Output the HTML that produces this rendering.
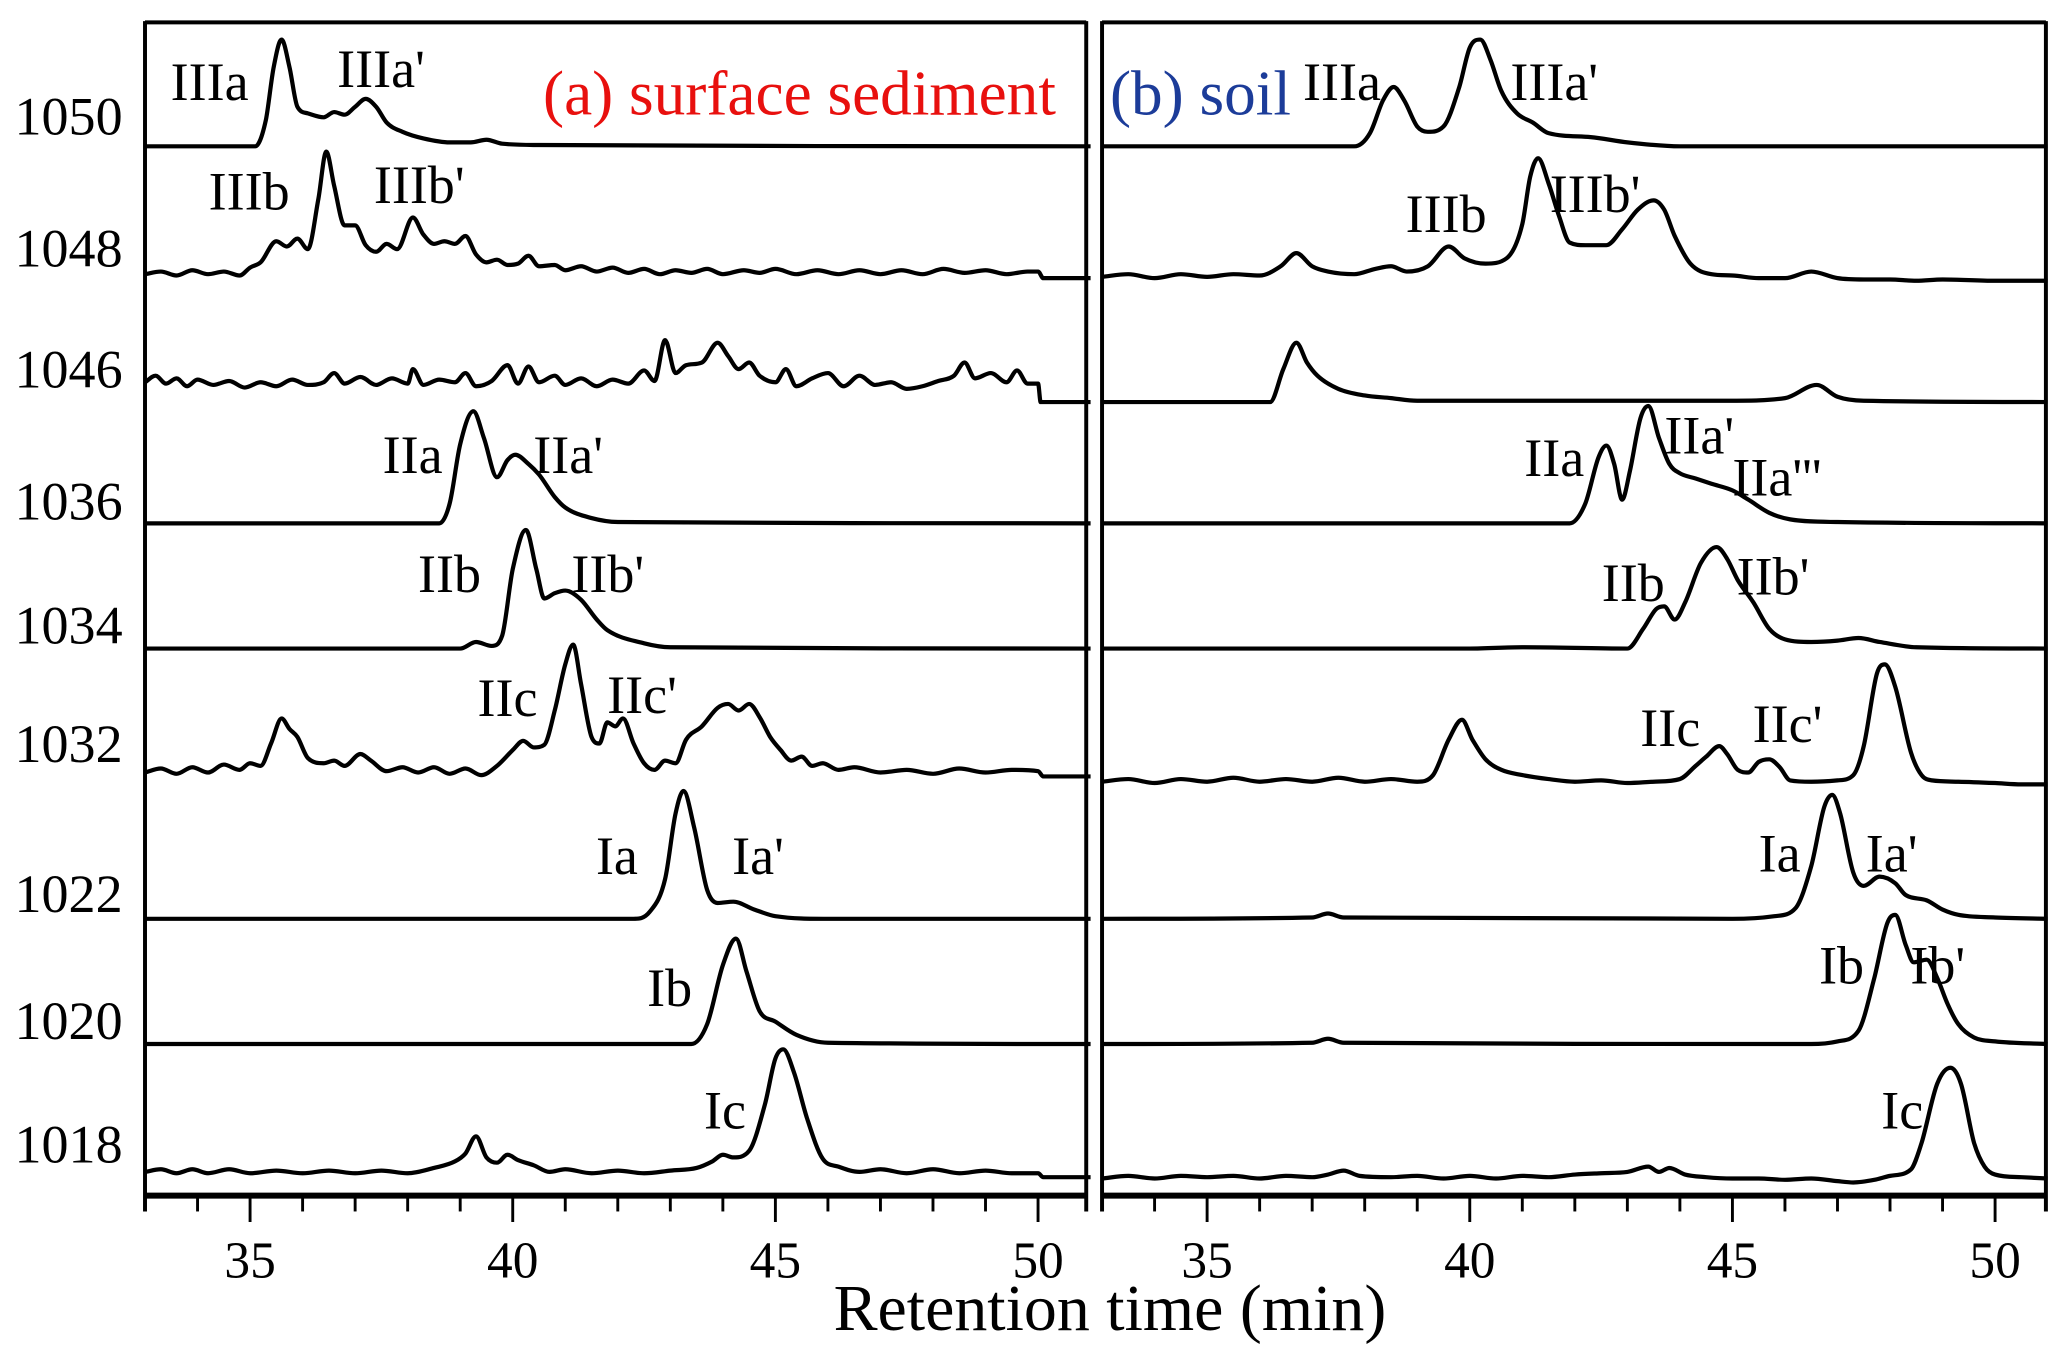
<!DOCTYPE html>
<html><head><meta charset="utf-8">
<style>
html,body{margin:0;padding:0;background:#fff;}
svg{display:block;}
text{font-family:"Liberation Serif",serif;}
</style></head>
<body>
<svg id="chart" width="2067" height="1362" viewBox="0 0 1568 1033.2" xmlns="http://www.w3.org/2000/svg">
<g id="frame"></g>
<g id="traces"></g>
<g id="labels"></g>
</svg>
<script>
// ---- data ----
const xTicks = [35, 40, 45, 50];
const xTickLabels = ["35", "40", "45", "50"];
const rowNames = ["1050","1048","1046","1036","1034","1032","1022","1020","1018"];
// trace points: [retention time (min), intensity]
const a1050 = [[33,0],[35.1,0],[35.3,20],[35.45,60],[35.6,81],[35.75,60],[35.9,30],[36.1,25],[36.4,22],[36.6,26],[36.8,24],[37.0,30],[37.2,36],[37.4,30],[37.6,18],[37.9,11],[38.3,6],[38.8,3],[39.2,3],[39.5,5],[39.8,2],[40.5,1],[51,0]];
const a1048 = [[33,3],[33.3,5],[33.6,2],[33.9,6],[34.2,3],[34.5,5],[34.8,2],[35.0,8],[35.2,12],[35.5,28],[35.7,24],[35.9,30],[36.1,22],[36.3,60],[36.45,96],[36.6,70],[36.8,40],[37.0,40],[37.2,25],[37.4,20],[37.6,26],[37.8,22],[38.1,46],[38.3,33],[38.5,26],[38.7,28],[38.9,26],[39.1,32],[39.3,18],[39.5,12],[39.7,14],[39.9,10],[40.1,11],[40.3,17],[40.5,9],[40.8,10],[41.0,6],[41.3,9],[41.6,5],[41.9,8],[42.2,4],[42.5,7],[42.8,3],[43.1,6],[43.4,4],[43.7,7],[44.0,3],[44.4,6],[44.7,4],[45.0,7],[45.4,3],[45.8,6],[46.2,3],[46.6,6],[47.0,3],[47.4,6],[47.8,3],[48.2,7],[48.6,4],[49.0,6],[49.4,3],[49.8,5],[50.0,5],[50.1,0],[51,0]];
const a1046 = [[33,15],[33.2,20],[33.4,14],[33.6,18],[33.8,12],[34,17],[34.3,13],[34.6,16],[34.9,11],[35.2,15],[35.5,12],[35.8,17],[36.1,13],[36.4,15],[36.6,22],[36.8,14],[37.1,19],[37.4,13],[37.7,18],[38,14],[38.1,25],[38.3,13],[38.6,17],[38.9,15],[39.1,22],[39.3,12],[39.6,16],[39.9,28],[40.1,14],[40.3,27],[40.5,15],[40.8,20],[41,13],[41.3,18],[41.6,12],[41.9,17],[42.2,14],[42.5,24],[42.7,16],[42.9,47],[43.1,22],[43.3,28],[43.6,30],[43.9,45],[44.1,35],[44.3,25],[44.5,30],[44.7,20],[45,15],[45.2,25],[45.4,12],[45.7,18],[46,22],[46.3,12],[46.6,20],[46.9,13],[47.2,15],[47.5,10],[47.8,12],[48.1,16],[48.4,20],[48.6,30],[48.8,18],[49.1,22],[49.4,15],[49.6,24],[49.8,14],[50,14],[50.05,0],[51,0]];
const a1036 = [[33,0],[38.6,0],[38.8,15],[39.0,60],[39.25,85],[39.45,65],[39.7,35],[39.9,48],[40.05,52],[40.3,45],[40.5,37],[40.8,20],[41.0,12],[41.5,4],[42,1],[51,0]];
const a1034 = [[33,0],[39.0,0],[39.3,5],[39.6,2],[39.8,10],[40.0,60],[40.25,90],[40.45,60],[40.6,38],[40.8,42],[41.0,44],[41.3,37],[41.6,22],[41.8,14],[42.5,4],[43,1],[51,0]];
const a1032 = [[33,3],[33.3,6],[33.6,2],[33.9,7],[34.2,3],[34.5,9],[34.8,5],[35.0,10],[35.2,8],[35.4,25],[35.6,44],[35.75,36],[35.9,30],[36.1,14],[36.4,10],[36.6,12],[36.8,8],[37.1,17],[37.3,12],[37.6,4],[37.9,7],[38.2,3],[38.5,7],[38.8,2],[39.1,6],[39.4,1],[39.7,8],[40.0,20],[40.2,27],[40.4,22],[40.6,24],[40.8,50],[41.0,85],[41.15,100],[41.3,70],[41.5,30],[41.65,25],[41.8,41],[41.95,38],[42.1,44],[42.3,25],[42.5,10],[42.7,5],[42.9,12],[43.1,10],[43.3,28],[43.6,38],[43.9,52],[44.1,55],[44.3,50],[44.5,55],[44.7,45],[44.9,30],[45.1,20],[45.3,12],[45.5,15],[45.7,8],[45.9,10],[46.2,5],[46.5,7],[47.0,3],[47.5,5],[48,2],[48.5,6],[49,3],[49.5,5],[50.0,4],[50.1,0],[51,0]];
const a1022 = [[33,0],[42.3,0],[42.6,5],[42.9,30],[43.1,80],[43.25,97],[43.45,70],[43.7,22],[43.9,12],[44.2,13],[44.6,7],[45.0,2],[46,0],[51,0]];
const a1020 = [[33,0],[43.4,0],[43.7,15],[44.0,60],[44.25,80],[44.45,55],[44.7,25],[45.0,17],[45.4,7],[46,1],[51,0]];
const a1018 = [[33,4],[33.3,6],[33.6,3],[33.9,6],[34.2,3],[34.6,6],[35.0,3],[35.5,5],[36.0,3],[36.5,5],[37.0,3],[37.5,5],[38.0,3],[38.5,7],[38.9,12],[39.1,18],[39.3,31],[39.5,15],[39.7,11],[39.9,17],[40.1,13],[40.4,9],[40.7,4],[41.0,6],[41.5,3],[42.0,5],[42.5,3],[43.0,5],[43.5,7],[43.8,12],[44.0,17],[44.2,15],[44.5,20],[44.8,55],[45.0,90],[45.15,97],[45.35,80],[45.6,45],[45.9,14],[46.2,8],[46.6,4],[47.0,6],[47.5,3],[48.0,6],[48.5,3],[49.0,5],[49.5,3],[50.0,3],[50.1,0],[51,0]];
const b1050 = [[33,0],[37.8,0],[38.1,10],[38.35,35],[38.55,45],[38.75,35],[39.0,15],[39.2,11],[39.5,15],[39.8,45],[40.0,75],[40.2,81],[40.4,65],[40.6,42],[40.9,25],[41.2,18],[41.5,10],[42.3,7],[43.0,3],[44,0],[51,0]];
const b1048 = [[33,4],[33.5,6],[34,3],[34.5,6],[35,4],[35.5,6],[36,5],[36.4,12],[36.7,22],[37.0,12],[37.3,8],[37.8,6],[38.2,10],[38.5,12],[38.8,8],[39.2,12],[39.6,27],[39.9,18],[40.3,14],[40.7,18],[41.0,44],[41.15,80],[41.3,94],[41.5,75],[41.7,50],[41.9,30],[42.2,28],[42.6,28],[42.9,40],[43.2,55],[43.5,62],[43.7,55],[43.9,35],[44.2,14],[44.6,6],[45.0,5],[45.5,3],[46.0,3],[46.5,8],[47.0,3],[47.5,2],[48,2],[48.5,1],[49,2],[50,1],[51,1]];
const b1046 = [[33,0],[36.2,0],[36.45,25],[36.7,45],[36.9,30],[37.1,20],[37.5,10],[38.0,5],[38.5,3],[39,1],[45,1],[46.0,3],[46.6,13],[47.0,4],[47.5,1],[51,0]];
const b1036 = [[33,0],[41.9,0],[42.2,15],[42.45,50],[42.6,59],[42.75,45],[42.9,18],[43.05,40],[43.25,80],[43.4,89],[43.6,65],[43.8,45],[44.0,38],[44.3,34],[44.6,30],[45.0,25],[45.3,18],[45.7,8],[46.1,3],[47,1],[51,0]];
const b1034 = [[33,0],[40.0,0],[41,1],[43.0,0],[43.3,15],[43.55,30],[43.7,32],[43.9,22],[44.1,35],[44.4,65],[44.7,77],[44.9,68],[45.1,52],[45.4,35],[45.7,15],[46.0,7],[46.5,5],[47.0,6],[47.4,8],[47.8,5],[48.5,1],[51,0]];
const b1032 = [[33,3],[33.5,5],[34,2],[34.5,5],[35,3],[35.5,6],[36,3],[36.5,5],[37,3],[37.5,6],[38,3],[38.5,5],[39.0,3],[39.3,8],[39.6,35],[39.85,50],[40.05,35],[40.3,20],[40.6,12],[41.0,8],[41.5,5],[42,3],[42.5,4],[43,2],[43.5,3],[44.0,5],[44.3,15],[44.5,22],[44.75,30],[44.9,24],[45.1,12],[45.3,10],[45.5,18],[45.7,20],[45.9,14],[46.1,4],[46.5,3],[47.0,4],[47.3,8],[47.5,30],[47.75,85],[47.9,92],[48.1,75],[48.4,25],[48.6,8],[48.8,4],[49.3,3],[50,2],[50.5,1],[51,1]];
const b1022 = [[33,0],[37.0,1],[37.3,4],[37.6,1],[45,0],[45.8,2],[46.2,8],[46.5,40],[46.75,85],[46.9,94],[47.05,80],[47.3,35],[47.5,25],[47.8,32],[48.1,27],[48.3,18],[48.7,14],[49.0,7],[49.3,3],[50,1],[51,0]];
const b1020 = [[33,0],[37.0,1],[37.3,4],[37.6,1],[46.5,0],[47.0,2],[47.4,10],[47.7,50],[47.95,92],[48.1,98],[48.3,75],[48.45,62],[48.7,64],[48.9,50],[49.1,30],[49.3,15],[49.6,5],[50,2],[51,0]];
const b1018 = [[33,3],[33.5,5],[34,3],[34.5,5],[35,4],[35.5,5],[36,3],[36.5,5],[37,4],[37.3,6],[37.6,9],[37.9,5],[38.5,4],[39,5],[39.5,3],[40,5],[40.5,3],[41,5],[41.5,4],[42,6],[42.5,7],[43.0,8],[43.4,12],[43.6,8],[43.8,11],[44.1,6],[44.5,4],[45,3],[45.5,3],[46,2],[46.5,3],[47.0,1],[47.3,0],[47.7,2],[48.0,5],[48.4,10],[48.6,30],[48.9,75],[49.15,87],[49.35,75],[49.6,30],[49.8,12],[50.0,6],[50.5,4],[51,3]];

const leftSeries = [a1050,a1048,a1046,a1036,a1034,a1032,a1022,a1020,a1018];
const rightSeries = [b1050,b1048,b1046,b1036,b1034,b1032,b1022,b1020,b1018];
const leftBase = [111,211,305,397,492,589,697,792,893];
const rightBase = [111,214,305,397,492,596,697,792,897];
const rowLabelY = [102,202,294,394,488,578,692,788,882];

const leftPeakLabels = [["IIIa",159,76],["IIIa'",289,66],["IIIb",189,159],["IIIb'",318,154],["IIa",313,359],["IIa'",431,359],["IIb",341,449],["IIb'",461,449],["IIc",385,543],["IIc'",487,541],["Ia",468,663],["Ia'",575,663],["Ib",508,763],["Ic",550,856]];
const rightPeakLabels = [["IIIa",1018,76],["IIIa'",1179,76],["IIIb",1097,176],["IIIb'",1210,161],["IIa",1179,361],["IIa'",1289,344],["IIa'''",1348,376],["IIb",1239,456],["IIb'",1345,451],["IIc",1267,566],["IIc'",1356,563],["Ia",1350,661],["Ia'",1435,661],["Ib",1397,746],["Ib'",1470,746],["Ic",1443,856]];

// ---- axes ----
const T0 = 33, T1 = 51, PX = 39.85;
function xLeft(t){ return 110 + PX*(t - T0); }
function xRight(t){ return 836 + PX*(t - T0); }
const NS = "http://www.w3.org/2000/svg";
function mk(tag, attrs, parent){ const e=document.createElementNS(NS,tag); for(const k in attrs) e.setAttribute(k,attrs[k]); parent.appendChild(e); return e; }

// monotone cubic (Fritsch-Carlson), no overshoot
function smoothPath(pts){
  const n = pts.length;
  const d = [], m = [];
  for(let i=0;i<n-1;i++) d.push((pts[i+1][1]-pts[i][1])/(pts[i+1][0]-pts[i][0]));
  for(let i=0;i<n;i++){
    if(i===0) m.push(d[0]);
    else if(i===n-1) m.push(d[n-2]);
    else if(d[i-1]*d[i] <= 0) m.push(0);
    else m.push((d[i-1]+d[i])/2);
  }
  for(let i=0;i<n-1;i++){
    if(d[i]===0){ m[i]=0; m[i+1]=0; continue; }
    const a=m[i]/d[i], b=m[i+1]/d[i], s=a*a+b*b;
    if(s>9){ const t=3/Math.sqrt(s); m[i]=t*a*d[i]; m[i+1]=t*b*d[i]; }
  }
  let p = 'M'+pts[0][0].toFixed(1)+','+pts[0][1].toFixed(1);
  for(let i=0;i<n-1;i++){
    const dx=(pts[i+1][0]-pts[i][0])/3;
    p += ' C'+(pts[i][0]+dx).toFixed(1)+','+(pts[i][1]+m[i]*dx).toFixed(1)+' '+(pts[i+1][0]-dx).toFixed(1)+','+(pts[i+1][1]-m[i+1]*dx).toFixed(1)+' '+pts[i+1][0].toFixed(1)+','+pts[i+1][1].toFixed(1);
  }
  return p;
}

const frame = document.getElementById('frame');
const traces = document.getElementById('traces');
const labels = document.getElementById('labels');
const AXY = 907;

function panel(xf, x0, x1, series, bases, pl, name){
  let top = mk('line',{x1:x0,y1:17,x2:x1,y2:17,stroke:'#000','stroke-width':3},frame);
  
  
  let lb = mk('line',{x1:x0,y1:16,x2:x0,y2:AXY+12,stroke:'#000','stroke-width':3},frame);
  
  
  let rb = mk('line',{x1:x1,y1:16,x2:x1,y2:AXY+12,stroke:'#000','stroke-width':3},frame);
  
  
  let ax = mk('line',{x1:x0,y1:AXY,x2:x1,y2:AXY,stroke:'#000','stroke-width':4.5},frame);
  
  
  for(let t=34; t<=50; t++){
    const major = xTicks.indexOf(t) >= 0;
    let tk = mk('line',{x1:xf(t),y1:AXY,x2:xf(t),y2:major?927:919,stroke:'#000','stroke-width':2.2},frame);
    
    
  }
  xTicks.forEach((t,i)=>{
    let tl = mk('text',{x:xf(t),y:969,'font-size':39,'text-anchor':'middle'},labels);
    tl.textContent = xTickLabels[i];
    
    
  });
  series.forEach((s,i)=>{
    const pts = s.map(p=>[xf(p[0]), bases[i]-p[1]]);
    let pth = mk('path',{d:smoothPath(pts),fill:'none',stroke:'#000','stroke-width':3.2,'stroke-linejoin':'round'},traces);
    
    
  });
  pl.forEach(l=>{
    let tx = mk('text',{x:l[1],y:l[2],'font-size':41,'text-anchor':'middle'},labels);
    tx.textContent = l[0];
    
    
  });
}
panel(xLeft, 110, 824, leftSeries, leftBase, leftPeakLabels, 'panel-a');
panel(xRight, 836, 1552, rightSeries, rightBase, rightPeakLabels, 'panel-b');

rowNames.forEach((r,i)=>{
  let t = mk('text',{x:52,y:rowLabelY[i],'font-size':41,'text-anchor':'middle'},labels);
  t.textContent = r;
  
  
});

let ta = mk('text',{x:801,y:87,'font-size':48,'text-anchor':'end',fill:'#e8100e'},labels);
ta.textContent = '(a) surface sediment';


let tb = mk('text',{x:842,y:87,'font-size':48,fill:'#1c3c99'},labels);
tb.textContent = '(b) soil';


let xt = mk('text',{x:842,y:1009,'font-size':50,'text-anchor':'middle'},labels);
xt.textContent = 'Retention time (min)';


</script>
</body></html>
